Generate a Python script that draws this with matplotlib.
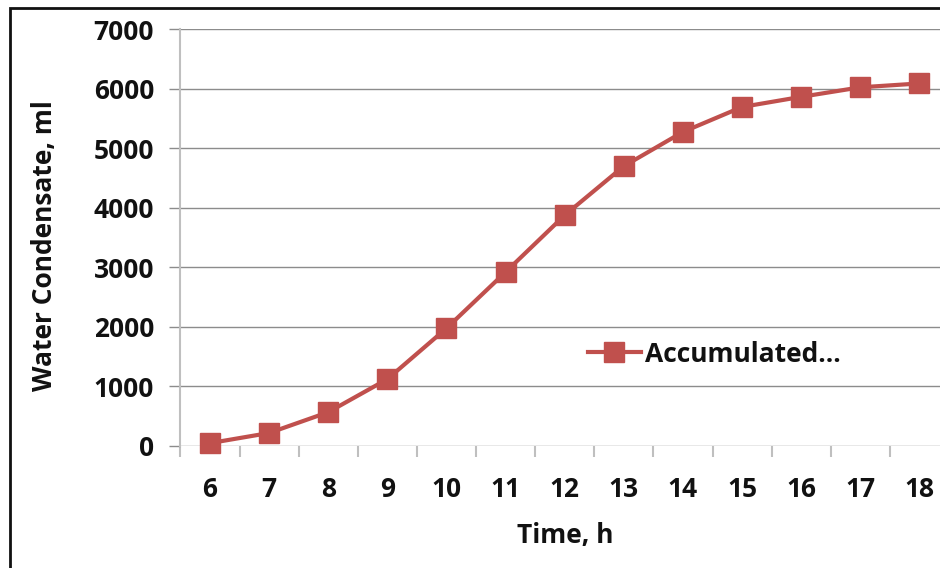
import matplotlib.pyplot as plt
import matplotlib.patches as mpatches
import numpy as np

# data
hours = ["6", "7", "8", "9", "10", "11", "12", "13", "14", "15", "16", "17", "18"]
condensate = [45, 215, 565, 1120, 1975, 2920, 3875, 4700, 5275, 5695, 5865, 6025, 6090]
series_label = "Accumulated\u2026"
yticks = [0, 1000, 2000, 3000, 4000, 5000, 6000, 7000]

RED = "#C0504D"
GRID = "#8C8C8C"
AXIS = "#BFBFBF"
FONT = "Open Sans"
FS = 19
WEIGHT = "bold"
TXT = "#111111"

W, H = 940, 568
fig = plt.figure(figsize=(W / 100, H / 100), dpi=100, facecolor="white")

# plot area in pixels: left 180, right ~949, top 29, bottom 446
x0, x1, ytop, ybot = 180.4, 949.0, 29.3, 445.8
ax = fig.add_axes([x0 / W, 1 - ybot / H, (x1 - x0) / W, (ybot - ytop) / H])

xs = np.arange(len(hours))
ax.plot(xs, condensate, color=RED, lw=3.0, marker="s", ms=15,
        mec=RED, mfc=RED, label=series_label, clip_on=False, zorder=3)

ax.set_xlim(-0.5, len(hours) - 0.5)
ax.set_ylim(0, 7000)
ax.set_yticks(yticks)
ax.set_yticklabels([str(v) for v in yticks])
ax.set_xticks(xs)
ax.set_xticklabels(hours)
ax.set_xticks(np.arange(-0.5, len(hours), 1.0), minor=True)

ax.grid(axis="y", color=GRID, lw=1.0)
ax.set_axisbelow(True)
for s in ["top", "right", "bottom"]:
    ax.spines[s].set_visible(False)
ax.spines["left"].set_color(AXIS)
ax.spines["left"].set_linewidth(1.5)

ax.tick_params(axis="x", which="major", length=0, pad=22)
ax.tick_params(axis="x", which="minor", length=8, width=1.5, color=AXIS)
ax.tick_params(axis="y", length=8, width=1.0, color=GRID, pad=11)
for lab in ax.get_xticklabels() + ax.get_yticklabels():
    lab.set_fontfamily(FONT)
    lab.set_fontweight(WEIGHT)
    lab.set_fontsize(FS)
    lab.set_color(TXT)

fig.text(565 / W, 1 - 535 / H, "Time, h", ha="center", va="center",
         fontsize=FS, fontweight=WEIGHT, family=FONT, color=TXT)
fig.text(45 / W, 1 - 246 / H, "Water Condensate, ml", ha="center", va="center",
         rotation=90, fontsize=FS, fontweight=WEIGHT, family=FONT, color=TXT)

leg = ax.legend(loc="center left", bbox_to_anchor=(588 / W, 1 - 354 / H),
                bbox_transform=fig.transFigure, frameon=False,
                handlelength=2.0, handletextpad=0.15, borderpad=0, borderaxespad=0,
                prop={"family": FONT, "weight": WEIGHT, "size": FS})
for t in leg.get_texts():
    t.set_color(TXT)

# outer chart frame (cropped at right and bottom in the reference)
frame = mpatches.Rectangle((10 / W, -0.1), 1.2, 1 - 8 / H + 0.1,
                           transform=fig.transFigure, fill=False,
                           edgecolor="#111111", lw=2.0)
fig.add_artist(frame)

fig.savefig("out.png", dpi=100, facecolor="white")
